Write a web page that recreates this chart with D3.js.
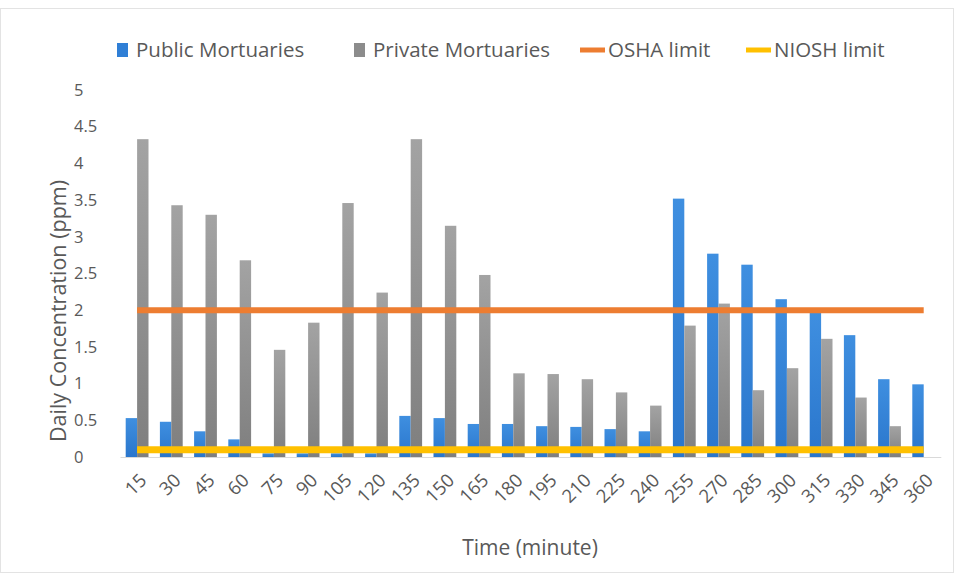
<!DOCTYPE html>
<html><head><meta charset="utf-8">
<script src="https://cdn.jsdelivr.net/npm/d3@7"></script>
<style>
body{margin:0;background:#fff;}
svg{display:block;font-family:"Open Sans",sans-serif;}
</style>
</head><body>
<svg id="chart" width="954" height="578"></svg>
<script>
const times = [15,30,45,60,75,90,105,120,135,150,165,180,195,210,225,240,255,270,285,300,315,330,345,360];
const publicVals = [0.53,0.48,0.35,0.24,0.05,0.05,0.05,0.05,0.56,0.53,0.45,0.45,0.42,0.41,0.38,0.35,3.52,2.77,2.62,2.15,1.98,1.66,1.06,0.99];
const privateVals = [4.33,3.43,3.30,2.68,1.46,1.83,3.46,2.24,4.33,3.15,2.48,1.14,1.13,1.06,0.88,0.70,1.79,2.09,0.91,1.21,1.61,0.81,0.42,0];
const oshaLimit = 2;
const nioshLimit = 0.1;
const yTicks = [0,0.5,1,1.5,2,2.5,3,3.5,4,4.5,5];
const seriesNames = ["Public Mortuaries","Private Mortuaries","OSHA limit","NIOSH limit"];
const xTitle = "Time (minute)";
const yTitle = "Daily Concentration (ppm)";

(function(){
const svg = d3.select("#chart");
const textColor = "#595959";

svg.append("rect").attr("x",0.5).attr("y",8.5).attr("width",953).attr("height",564)
  .attr("fill","none").attr("stroke","#e3e3e3");

const defs = svg.append("defs");
const gb = defs.append("linearGradient").attr("id","gBlue").attr("x1",0).attr("x2",0).attr("y1",0).attr("y2",1);
gb.append("stop").attr("offset","0%").attr("stop-color","#3f8fe0");
gb.append("stop").attr("offset","100%").attr("stop-color","#2a76cc");
const gg = defs.append("linearGradient").attr("id","gGray").attr("x1",0).attr("x2",0).attr("y1",0).attr("y2",1);
gg.append("stop").attr("offset","0%").attr("stop-color","#a3a3a3");
gg.append("stop").attr("offset","100%").attr("stop-color","#7f7f7f");

const pLeft = 120, pRight = 940.8, pTop = 90, pBottom = 457;
const x = d3.scaleBand().domain(times).range([pLeft, pRight]).paddingInner(1/3).paddingOuter(1/6);
const x1 = d3.scaleBand().domain(["public","private"]).range([0, x.bandwidth()]);
const y = d3.scaleLinear().domain([0,5]).range([pBottom, pTop]);

const rows = times.map((t,i)=>({t, pub: publicVals[i], priv: privateVals[i]}));

const groups = svg.append("g").selectAll("g").data(rows).join("g")
  .attr("transform", d=>`translate(${x(d.t)},0)`);
groups.selectAll("rect").data(d=>[{k:"public",v:d.pub},{k:"private",v:d.priv}]).join("rect")
  .attr("x", d=>x1(d.k)).attr("width", x1.bandwidth())
  .attr("y", d=>y(d.v)).attr("height", d=>y(0)-y(d.v))
  .attr("fill", d=>d.k==="public" ? "url(#gBlue)" : "url(#gGray)");

const xAxis = svg.append("g").attr("transform",`translate(0,${pBottom})`)
  .call(d3.axisBottom(x).tickSize(0).tickPadding(0));
xAxis.select(".domain").attr("stroke","#d9d9d9").attr("stroke-width",1.2);
xAxis.selectAll(".tick text")
  .attr("fill", textColor).attr("font-size",18.5).attr("font-family","'Open Sans',sans-serif")
  .attr("text-anchor","end").attr("dy","0.35em").attr("y",0)
  .attr("transform","translate(6,20) rotate(-45)");

const line = d3.line().x(d=>x(d.t)+x.bandwidth()/2).y(d=>y(d.v));
svg.append("path").datum(times.map(t=>({t, v:oshaLimit})))
  .attr("d", line).attr("fill","none").attr("stroke","#ed7d31").attr("stroke-width",6);
svg.append("path").datum(times.map(t=>({t, v:nioshLimit})))
  .attr("d", line).attr("fill","none").attr("stroke","#ffc000").attr("stroke-width",7);

const yAxis = svg.append("g").attr("transform","translate(74,0)")
  .call(d3.axisLeft(y).tickValues(yTicks).tickFormat(d3.format("~g")).tickSize(0).tickPadding(0));
yAxis.select(".domain").remove();
yAxis.selectAll(".tick text").attr("fill", textColor).attr("font-size",16.5)
  .attr("font-family","'Open Sans',sans-serif").attr("text-anchor","start").attr("x",0);

svg.append("text").attr("x",530).attr("y",555).attr("text-anchor","middle")
  .attr("fill",textColor).attr("font-size",21).text(xTitle);
svg.append("text").attr("transform","translate(66,311) rotate(-90)").attr("text-anchor","middle")
  .attr("fill",textColor).attr("font-size",21.5).text(yTitle);

const legendItems = [
  {name: seriesNames[0], type:"rect", color:"#2f7fd6", x:117},
  {name: seriesNames[1], type:"rect", color:"#8c8c8c", x:354},
  {name: seriesNames[2], type:"line", color:"#ed7d31", x:580},
  {name: seriesNames[3], type:"line", color:"#ffc000", x:746}
];
const lg = svg.append("g").selectAll("g").data(legendItems).join("g")
  .attr("transform", d=>`translate(${d.x},50)`);
lg.filter(d=>d.type==="rect").append("rect").attr("x",0).attr("y",-7).attr("width",11).attr("height",14).attr("fill",d=>d.color);
lg.filter(d=>d.type==="line").append("line").attr("x1",0).attr("x2",25).attr("y1",0).attr("y2",0)
  .attr("stroke",d=>d.color).attr("stroke-width",5);
lg.append("text").attr("x",d=>d.type==="rect"?19:28).attr("y",0).attr("dy","0.35em")
  .attr("fill",textColor).attr("font-size",20.5).text(d=>d.name);
})();
</script>
</body></html>
